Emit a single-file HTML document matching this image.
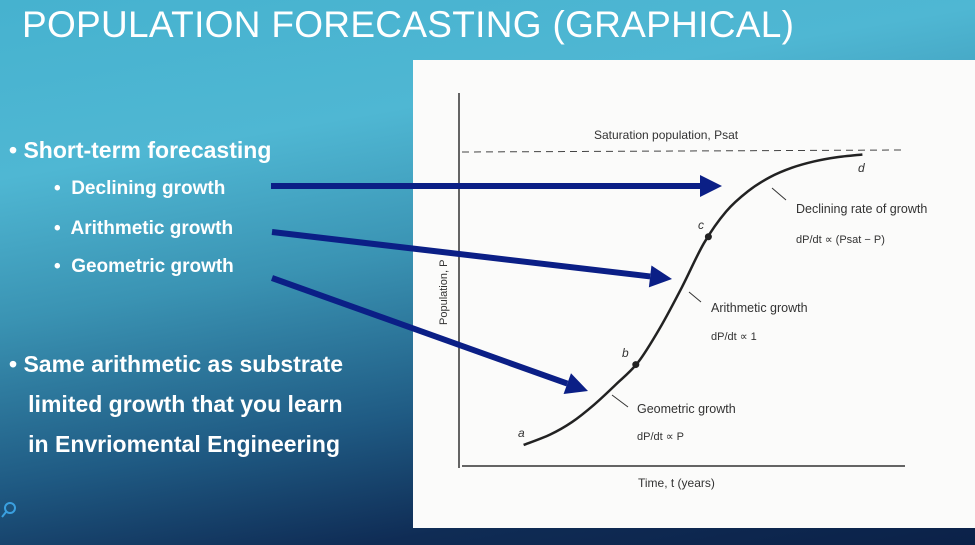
<!DOCTYPE html>
<html><head><meta charset="utf-8"><style>
html,body{margin:0;padding:0}
body{width:975px;height:545px;overflow:hidden;position:relative;font-family:"Liberation Sans",sans-serif;
background:linear-gradient(170deg,#46b2cf 0%,#4fb7d3 25%,#3a93b3 45%,#1f5a83 68%,#0f2c55 85%,#0b2148 100%);}
.t{position:absolute;color:#fff;white-space:nowrap}
</style></head><body>
<div class="t" style="left:22px;top:4px;font-size:37px;letter-spacing:0.3px">POPULATION FORECASTING (GRAPHICAL)</div>
<div class="t" style="left:9px;top:137px;font-size:23px;font-weight:bold">• Short-term forecasting</div>
<div class="t" style="left:54px;top:178px;font-size:19px;font-weight:bold">•&nbsp; Declining growth</div>
<div class="t" style="left:54px;top:218px;font-size:19px;font-weight:bold">•&nbsp; Arithmetic growth</div>
<div class="t" style="left:54px;top:256px;font-size:19px;font-weight:bold">•&nbsp; Geometric growth</div>
<div class="t" style="left:9px;top:344px;font-size:23px;font-weight:bold;line-height:40px">• Same arithmetic as substrate<br>&nbsp;&nbsp; limited growth that you learn<br>&nbsp;&nbsp; in Envriomental Engineering</div>
<svg style="position:absolute;left:0;top:500px" width="20" height="20"><circle cx="10" cy="8" r="5" fill="none" stroke="#3aa0e0" stroke-width="2"/><line x1="6" y1="12" x2="2" y2="17" stroke="#3aa0e0" stroke-width="2"/></svg>
<svg id="chart" style="position:absolute;left:0;top:0" width="975" height="545">
<rect x="413" y="60" width="562" height="468" fill="#fbfbfa"/>
</svg>
<script>
const times=[1.4,2,2.5,3,3.5,4,4.5,5,5.5,6,6.5,7,7.5,8,8.5,9.1];
const pops=[6.7,10,14,19.5,26,33,44,57,71,81,87.5,92,95,97,98.3,99.2];
const pSat=100;
const NS='http://www.w3.org/2000/svg';
const svg=document.getElementById('chart');
const X=t=>462+t*44, Y=p=>466-p*3.14;
function mk(tag,a,txt){const e=document.createElementNS(NS,tag);for(const k in a)e.setAttribute(k,a[k]);if(txt)e.textContent=txt;svg.appendChild(e);return e;}
let e;
e=mk('line',{x1:459,y1:93,x2:459,y2:468,stroke:'#333','stroke-width':1.5});


e=mk('line',{x1:462,y1:466,x2:905,y2:466,stroke:'#333','stroke-width':1.5});


e=mk('line',{x1:462,y1:Y(pSat),x2:902,y2:Y(pSat)-2,stroke:'#444','stroke-width':1,'stroke-dasharray':'7,5'});


const pts=times.map((t,i)=>[X(t),Y(pops[i])]);
let d='M'+pts[0][0]+','+pts[0][1];
for(let i=0;i<pts.length-1;i++){const p0=pts[i-1]||pts[i],p1=pts[i],p2=pts[i+1],p3=pts[i+2]||p2;
d+=` C${p1[0]+(p2[0]-p0[0])/6},${p1[1]+(p2[1]-p0[1])/6} ${p2[0]-(p3[0]-p1[0])/6},${p2[1]-(p3[1]-p1[1])/6} ${p2[0]},${p2[1]}`;}
e=mk('path',{d:d,fill:'none',stroke:'#222','stroke-width':2.5});


[[3.95,'b'],[5.6,'c']].forEach(([t,n])=>{let i=0;while(times[i+1]<t)i++;const f=(t-times[i])/(times[i+1]-times[i]);const p=pops[i]+f*(pops[i+1]-pops[i]);
e=mk('circle',{cx:X(t),cy:Y(p),r:3.5,fill:'#222'});

});
const labels=[['a',518,437,'label-a'],['b',622,357,'label-b'],['c',698,229,'label-c'],['d',858,172,'label-d']];
labels.forEach(l=>{e=mk('text',{x:l[1],y:l[2],'font-size':12,'font-style':'italic',fill:'#333'},l[0]);

});
const txt=[['Saturation population, Psat',594,139,12,'saturation-label'],['Declining rate of growth',796,213,12.5,'declining-label'],['dP/dt ∝ (Psat − P)',796,243,11,'declining-formula'],
['Arithmetic growth',711,312,12.5,'arithmetic-label'],['dP/dt ∝ 1',711,340,11,'arithmetic-formula'],['Geometric growth',637,413,12.5,'geometric-label'],['dP/dt ∝ P',637,440,11,'geometric-formula'],['Time, t (years)',638,487,12,'x-axis-title']];
txt.forEach(l=>{e=mk('text',{x:l[1],y:l[2],'font-size':l[3],fill:'#333'},l[0]);

});
e=mk('text',{x:0,y:0,'font-size':11,fill:'#333',transform:'translate(447,325) rotate(-90)'},'Population, P');


[[786,200,772,188],[701,302,689,292],[628,407,612,395]].forEach((a,i)=>{e=mk('line',{x1:a[0],y1:a[1],x2:a[2],y2:a[3],stroke:'#333','stroke-width':1});

});
const arrows=[[271,186,722,186,'arrow-declining'],[272,232,672,279,'arrow-arithmetic'],[272,278,588,391,'arrow-geometric']];
arrows.forEach(a=>{const dx=a[2]-a[0],dy=a[3]-a[1],L=Math.hypot(dx,dy),ux=dx/L,uy=dy/L,hl=22,hw=11;
const bx=a[2]-ux*hl,by=a[3]-uy*hl;
const g=mk('g',{});


const l=document.createElementNS(NS,'line');
[['x1',a[0]],['y1',a[1]],['x2',bx],['y2',by],['stroke','#0b1f86'],['stroke-width',6]].forEach(p=>l.setAttribute(p[0],p[1]));g.appendChild(l);
const p=document.createElementNS(NS,'polygon');
p.setAttribute('points',`${a[2]},${a[3]} ${bx-uy*hw},${by+ux*hw} ${bx+uy*hw},${by-ux*hw}`);p.setAttribute('fill','#0b1f86');g.appendChild(p);});
</script>
</body></html>
